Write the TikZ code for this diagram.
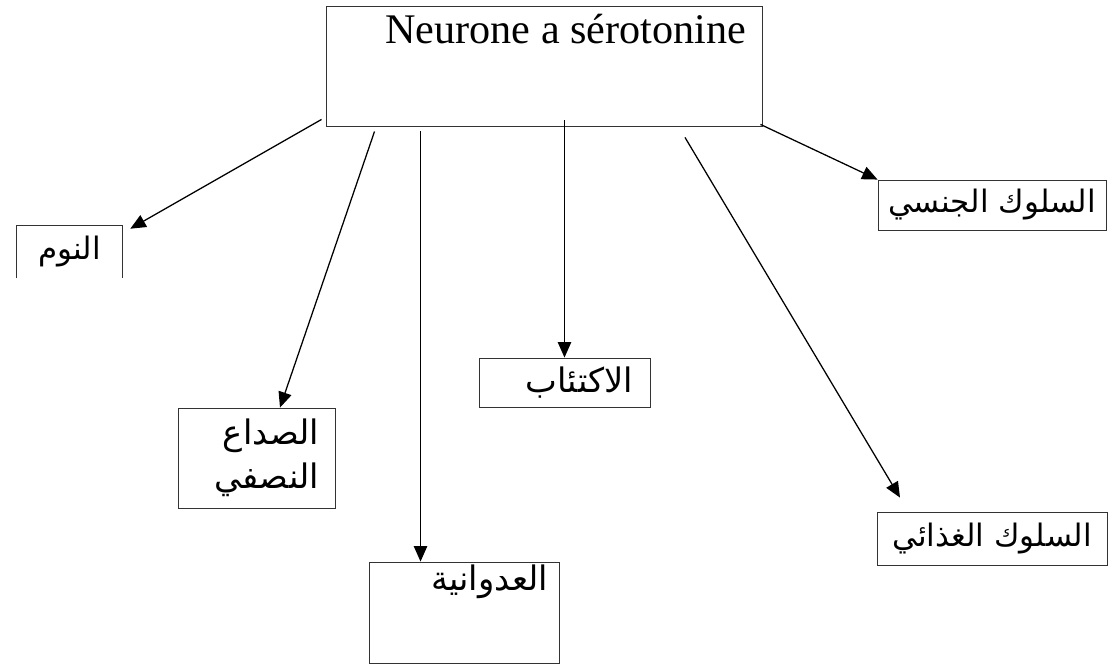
\documentclass[tikz,border=0pt]{standalone}
\usepackage{fontspec}
\setmainfont{Liberation Serif}
\newfontfamily\arabicfont[Script=Arabic]{DejaVu Sans}
\TeXXeTstate=1
\usetikzlibrary{arrows.meta}

\tikzset{
  cadre/.style={draw=black!80, line width=0.6pt, inner sep=0pt, align=center,
    font=\arabicfont\fontsize{24}{31}\selectfont},
  petit/.style={font=\arabicfont\fontsize{22}{28}\selectfont},
  fleche/.style={-{Triangle[length=11pt,width=9.5pt]}, line width=0.9pt}
}

\begin{document}
\begin{tikzpicture}[x=0.025cm,y=-0.025cm]
			\useasboundingbox (0,0) rectangle (1116,671);
			\node[cadre, font=\fontsize{30}{36}\selectfont, inner xsep=0.4cm, text width=10.1cm, align=flush right, text height=0.95cm, text depth=2.05cm] (Neurone) at (544,66) {Neurone a sérotonine};
			\node[petit, inner sep=0pt, minimum width=2.625cm, minimum height=1.3cm] (Sommeil) at (69.5,252) {\beginR النوم\endR};
			\draw[draw=black!80, line width=0.6pt] (Sommeil.south west) -- (Sommeil.north west) -- (Sommeil.north east) -- (Sommeil.south east);
			\node[cadre, inner xsep=0.4cm, text width=3.125cm, align=flush right, minimum height=2.5cm] (Migraine) at (256.5,458) {\beginR الصداع\endR\\\beginR النصفي\endR};
			\node[cadre, inner xsep=0.275cm, text width=4.2cm, align=flush right, text height=0.7cm, text depth=1.825cm] (Agressivite) at (464,612.5) {\beginR العدوانية\endR};
			\node[cadre, inner xsep=0.425cm, text width=3.425cm, align=flush right, minimum height=1.225cm] (Depression) at (564.5,382.5) {\beginR الاكتئاب\endR};
			\node[cadre, petit, minimum width=5.7cm, minimum height=1.25cm] (Sexuel) at (992,205) {\beginR السلوك الجنسي\endR};
			\node[cadre, petit, minimum width=5.75cm, minimum height=1.325cm] (Alimentaire) at (992,538.5) {\beginR السلوك الغذائي\endR};
			\draw[fleche] ([shift={(-4,-7)}]Neurone.south west) to ([shift={(8,3)}]Sommeil.north east);
			\draw[fleche] ([shift={(49,5)}]Neurone.south west) to ([shift={(23.5,0)}]Migraine.north);
			\draw[fleche] ([shift={(95,5)}]Neurone.south west) coordinate (d3) -- (d3 |- Agressivite.north);
			\draw[fleche] ([shift={(20.5,-6)}]Neurone.south) to (Depression.north);
			\draw[fleche] ([shift={(141,11)}]Neurone.south) to ([shift={(-92,-14)}]Alimentaire.north);
			\draw[fleche] ([shift={(-2,-2)}]Neurone.south east) to (Sexuel.north west);
		\end{tikzpicture}
\end{document}
